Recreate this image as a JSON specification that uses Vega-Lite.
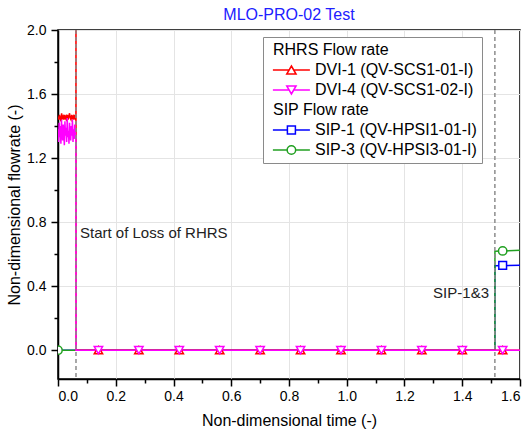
{
  "$schema": "https://vega.github.io/schema/vega-lite/v6.json",
  "width": 462,
  "height": 349,
  "autosize": {"type": "none"},
  "padding": {"left": 58, "top": 30, "right": 12, "bottom": 53},
  "title": {"text": "MLO-PRO-02 Test", "color": "#2020ff", "fontSize": 16, "fontWeight": "normal", "font": "Liberation Sans", "offset": 0},
  "config": {
    "font": "Liberation Sans",
    "view": {"stroke": "black", "strokeWidth": 1.5},
    "axis": {"labelFont": "Liberation Sans", "titleFont": "Liberation Sans", "labelColor": "black", "titleColor": "black", "domainColor": "black", "tickColor": "black", "domainWidth": 1.5, "tickWidth": 1.5, "labelFontSize": 14, "titleFontSize": 16, "titleFontWeight": "normal", "gridColor": "#e4e4e4", "gridWidth": 1}
  },
  "datasets": {
    "sip_lines": [
      {"s": "SIP-1 (QV-HPSI1-01-I)", "t": 0, "v": 0},
      {"s": "SIP-1 (QV-HPSI1-01-I)", "t": 1.513, "v": 0},
      {"s": "SIP-1 (QV-HPSI1-01-I)", "t": 1.5132, "v": 0.528},
      {"s": "SIP-1 (QV-HPSI1-01-I)", "t": 1.6, "v": 0.53},
      {"s": "SIP-3 (QV-HPSI3-01-I)", "t": 0, "v": 0},
      {"s": "SIP-3 (QV-HPSI3-01-I)", "t": 1.513, "v": 0},
      {"s": "SIP-3 (QV-HPSI3-01-I)", "t": 1.5132, "v": 0.618},
      {"s": "SIP-3 (QV-HPSI3-01-I)", "t": 1.6, "v": 0.624}
    ],
    "rhrs_lines": [
      {"s": "DVI-1 (QV-SCS1-01-I)", "t": 0, "v": 1.46},
      {"s": "DVI-1 (QV-SCS1-01-I)", "t": 0.0025, "v": 1.44},
      {"s": "DVI-1 (QV-SCS1-01-I)", "t": 0.005, "v": 1.47},
      {"s": "DVI-1 (QV-SCS1-01-I)", "t": 0.0075, "v": 1.45},
      {"s": "DVI-1 (QV-SCS1-01-I)", "t": 0.01, "v": 1.43},
      {"s": "DVI-1 (QV-SCS1-01-I)", "t": 0.0125, "v": 1.48},
      {"s": "DVI-1 (QV-SCS1-01-I)", "t": 0.015, "v": 1.45},
      {"s": "DVI-1 (QV-SCS1-01-I)", "t": 0.0175, "v": 1.46},
      {"s": "DVI-1 (QV-SCS1-01-I)", "t": 0.02, "v": 1.44},
      {"s": "DVI-1 (QV-SCS1-01-I)", "t": 0.0225, "v": 1.47},
      {"s": "DVI-1 (QV-SCS1-01-I)", "t": 0.025, "v": 1.45},
      {"s": "DVI-1 (QV-SCS1-01-I)", "t": 0.0275, "v": 1.46},
      {"s": "DVI-1 (QV-SCS1-01-I)", "t": 0.03, "v": 1.43},
      {"s": "DVI-1 (QV-SCS1-01-I)", "t": 0.0325, "v": 1.47},
      {"s": "DVI-1 (QV-SCS1-01-I)", "t": 0.035, "v": 1.44},
      {"s": "DVI-1 (QV-SCS1-01-I)", "t": 0.0375, "v": 1.46},
      {"s": "DVI-1 (QV-SCS1-01-I)", "t": 0.04, "v": 1.48},
      {"s": "DVI-1 (QV-SCS1-01-I)", "t": 0.0425, "v": 1.45},
      {"s": "DVI-1 (QV-SCS1-01-I)", "t": 0.045, "v": 1.44},
      {"s": "DVI-1 (QV-SCS1-01-I)", "t": 0.0475, "v": 1.47},
      {"s": "DVI-1 (QV-SCS1-01-I)", "t": 0.05, "v": 1.45},
      {"s": "DVI-1 (QV-SCS1-01-I)", "t": 0.0525, "v": 1.46},
      {"s": "DVI-1 (QV-SCS1-01-I)", "t": 0.055, "v": 1.44},
      {"s": "DVI-1 (QV-SCS1-01-I)", "t": 0.0575, "v": 1.47},
      {"s": "DVI-1 (QV-SCS1-01-I)", "t": 0.06, "v": 1.45},
      {"s": "DVI-1 (QV-SCS1-01-I)", "t": 0.062, "v": 1.46},
      {"s": "DVI-1 (QV-SCS1-01-I)", "t": 0.0623, "v": 2.6},
      {"s": "DVI-1 (QV-SCS1-01-I)", "t": 0.0626, "v": 0},
      {"s": "DVI-1 (QV-SCS1-01-I)", "t": 1.6, "v": 0},
      {"s": "DVI-4 (QV-SCS1-02-I)", "t": 0, "v": 1.38},
      {"s": "DVI-4 (QV-SCS1-02-I)", "t": 0.002, "v": 1.30},
      {"s": "DVI-4 (QV-SCS1-02-I)", "t": 0.004, "v": 1.42},
      {"s": "DVI-4 (QV-SCS1-02-I)", "t": 0.006, "v": 1.33},
      {"s": "DVI-4 (QV-SCS1-02-I)", "t": 0.008, "v": 1.40},
      {"s": "DVI-4 (QV-SCS1-02-I)", "t": 0.010, "v": 1.29},
      {"s": "DVI-4 (QV-SCS1-02-I)", "t": 0.012, "v": 1.44},
      {"s": "DVI-4 (QV-SCS1-02-I)", "t": 0.014, "v": 1.35},
      {"s": "DVI-4 (QV-SCS1-02-I)", "t": 0.016, "v": 1.31},
      {"s": "DVI-4 (QV-SCS1-02-I)", "t": 0.018, "v": 1.41},
      {"s": "DVI-4 (QV-SCS1-02-I)", "t": 0.020, "v": 1.36},
      {"s": "DVI-4 (QV-SCS1-02-I)", "t": 0.022, "v": 1.28},
      {"s": "DVI-4 (QV-SCS1-02-I)", "t": 0.024, "v": 1.43},
      {"s": "DVI-4 (QV-SCS1-02-I)", "t": 0.026, "v": 1.34},
      {"s": "DVI-4 (QV-SCS1-02-I)", "t": 0.028, "v": 1.39},
      {"s": "DVI-4 (QV-SCS1-02-I)", "t": 0.030, "v": 1.30},
      {"s": "DVI-4 (QV-SCS1-02-I)", "t": 0.032, "v": 1.45},
      {"s": "DVI-4 (QV-SCS1-02-I)", "t": 0.034, "v": 1.33},
      {"s": "DVI-4 (QV-SCS1-02-I)", "t": 0.036, "v": 1.37},
      {"s": "DVI-4 (QV-SCS1-02-I)", "t": 0.038, "v": 1.29},
      {"s": "DVI-4 (QV-SCS1-02-I)", "t": 0.040, "v": 1.42},
      {"s": "DVI-4 (QV-SCS1-02-I)", "t": 0.042, "v": 1.35},
      {"s": "DVI-4 (QV-SCS1-02-I)", "t": 0.044, "v": 1.31},
      {"s": "DVI-4 (QV-SCS1-02-I)", "t": 0.046, "v": 1.40},
      {"s": "DVI-4 (QV-SCS1-02-I)", "t": 0.048, "v": 1.34},
      {"s": "DVI-4 (QV-SCS1-02-I)", "t": 0.050, "v": 1.44},
      {"s": "DVI-4 (QV-SCS1-02-I)", "t": 0.052, "v": 1.30},
      {"s": "DVI-4 (QV-SCS1-02-I)", "t": 0.054, "v": 1.38},
      {"s": "DVI-4 (QV-SCS1-02-I)", "t": 0.056, "v": 1.32},
      {"s": "DVI-4 (QV-SCS1-02-I)", "t": 0.058, "v": 1.41},
      {"s": "DVI-4 (QV-SCS1-02-I)", "t": 0.060, "v": 1.36},
      {"s": "DVI-4 (QV-SCS1-02-I)", "t": 0.062, "v": 1.33},
      {"s": "DVI-4 (QV-SCS1-02-I)", "t": 0.0625, "v": 0},
      {"s": "DVI-4 (QV-SCS1-02-I)", "t": 1.6, "v": 0}
    ],
    "markers": [
      {"s": "SIP-1 (QV-HPSI1-01-I)", "t": 1.54, "v": 0.529},
      {"s": "SIP-3 (QV-HPSI3-01-I)", "t": 0, "v": 0},
      {"s": "SIP-3 (QV-HPSI3-01-I)", "t": 1.54, "v": 0.62},
      {"s": "DVI-1 (QV-SCS1-01-I)", "t": 0.14, "v": 0},
      {"s": "DVI-1 (QV-SCS1-01-I)", "t": 0.28, "v": 0},
      {"s": "DVI-1 (QV-SCS1-01-I)", "t": 0.42, "v": 0},
      {"s": "DVI-1 (QV-SCS1-01-I)", "t": 0.56, "v": 0},
      {"s": "DVI-1 (QV-SCS1-01-I)", "t": 0.70, "v": 0},
      {"s": "DVI-1 (QV-SCS1-01-I)", "t": 0.84, "v": 0},
      {"s": "DVI-1 (QV-SCS1-01-I)", "t": 0.98, "v": 0},
      {"s": "DVI-1 (QV-SCS1-01-I)", "t": 1.12, "v": 0},
      {"s": "DVI-1 (QV-SCS1-01-I)", "t": 1.26, "v": 0},
      {"s": "DVI-1 (QV-SCS1-01-I)", "t": 1.40, "v": 0},
      {"s": "DVI-1 (QV-SCS1-01-I)", "t": 1.54, "v": 0},
      {"s": "DVI-4 (QV-SCS1-02-I)", "t": 0.14, "v": 0},
      {"s": "DVI-4 (QV-SCS1-02-I)", "t": 0.28, "v": 0},
      {"s": "DVI-4 (QV-SCS1-02-I)", "t": 0.42, "v": 0},
      {"s": "DVI-4 (QV-SCS1-02-I)", "t": 0.56, "v": 0},
      {"s": "DVI-4 (QV-SCS1-02-I)", "t": 0.70, "v": 0},
      {"s": "DVI-4 (QV-SCS1-02-I)", "t": 0.84, "v": 0},
      {"s": "DVI-4 (QV-SCS1-02-I)", "t": 0.98, "v": 0},
      {"s": "DVI-4 (QV-SCS1-02-I)", "t": 1.12, "v": 0},
      {"s": "DVI-4 (QV-SCS1-02-I)", "t": 1.26, "v": 0},
      {"s": "DVI-4 (QV-SCS1-02-I)", "t": 1.40, "v": 0},
      {"s": "DVI-4 (QV-SCS1-02-I)", "t": 1.54, "v": 0}
    ],
    "events": [{"t": 0.0623}, {"t": 1.513}]
  },
  "layer": [
    {
      "data": {"name": "sip_lines"},
      "mark": {"type": "line", "strokeWidth": 1.5, "clip": true},
      "encoding": {
        "x": {"field": "t", "type": "quantitative", "scale": {"domain": [0, 1.6], "nice": false, "zero": false},
          "axis": {"orient": "bottom", "values": [0, 0.2, 0.4, 0.6, 0.8, 1.0, 1.2, 1.4, 1.6], "format": ".1f", "title": "Non-dimensional time (-)", "grid": true, "tickSize": 7, "labelPadding": 3, "titlePadding": 9}},
        "y": {"field": "v", "type": "quantitative", "scale": {"domain": [-0.18, 2.0], "nice": false, "zero": false},
          "axis": {"orient": "left", "values": [0, 0.4, 0.8, 1.2, 1.6, 2.0], "format": ".1f", "title": "Non-dimensional flowrate (-)", "grid": true, "tickSize": 7, "labelPadding": 5, "titlePadding": 4}},
        "stroke": {"field": "s", "type": "nominal",
          "scale": {"domain": ["RHRS Flow rate", "DVI-1 (QV-SCS1-01-I)", "DVI-4 (QV-SCS1-02-I)", "SIP Flow rate", "SIP-1 (QV-HPSI1-01-I)", "SIP-3 (QV-HPSI3-01-I)"],
                    "range": ["transparent", "#ff0000", "#ff00ff", "transparent", "#0000ff", "#22a022"]},
          "legend": {
            "orient": "none", "legendX": 205, "legendY": 7, "title": null,
            "labelFont": "Liberation Sans", "labelFontSize": 16, "labelColor": "black", "labelLimit": 0,
            "strokeColor": "#8a8a8a", "fillColor": "white", "padding": 5, "rowPadding": 4,
            "symbolSize": 100, "symbolStrokeWidth": 1.5,
            "encode": {
              "symbols": {
                "enter": {
                  "shape": {"signal": "datum.value === 'DVI-1 (QV-SCS1-01-I)' ? 'M-3.7,0H-0.47M0.47,0H3.7M0,-0.8L0.93,0.8L-0.93,0.8Z' : datum.value === 'DVI-4 (QV-SCS1-02-I)' ? 'M-3.7,0H-0.47M0.47,0H3.7M0,0.8L0.93,-0.8L-0.93,-0.8Z' : datum.value === 'SIP-1 (QV-HPSI1-01-I)' ? 'M-3.7,0H-0.8M0.8,0H3.7M-0.8,-0.8H0.8V0.8H-0.8Z' : 'M-3.7,0H-0.85M0.85,0H3.7M-0.85,0A0.85,0.85,0,1,0,0.85,0A0.85,0.85,0,1,0,-0.85,0Z'"}
                },
                "update": {
                  "x": {"value": 23.4},
                  "fill": {"value": "white"},
                  "shape": {"signal": "datum.value === 'DVI-1 (QV-SCS1-01-I)' ? 'M-3.7,0H-0.47M0.47,0H3.7M0,-0.8L0.93,0.8L-0.93,0.8Z' : datum.value === 'DVI-4 (QV-SCS1-02-I)' ? 'M-3.7,0H-0.47M0.47,0H3.7M0,0.8L0.93,-0.8L-0.93,-0.8Z' : datum.value === 'SIP-1 (QV-HPSI1-01-I)' ? 'M-3.7,0H-0.8M0.8,0H3.7M-0.8,-0.8H0.8V0.8H-0.8Z' : 'M-3.7,0H-0.85M0.85,0H3.7M-0.85,0A0.85,0.85,0,1,0,0.85,0A0.85,0.85,0,1,0,-0.85,0Z'"}
                }
              },
              "labels": {"update": {
                "x": [
                  {"test": "datum.value === 'RHRS Flow rate' || datum.value === 'SIP Flow rate'", "value": 5},
                  {"value": 47}
                ]
              }}
            }
          }
        }
      }
    },
    {
      "data": {"name": "rhrs_lines"},
      "mark": {"type": "line", "strokeWidth": 1.5, "clip": true},
      "encoding": {
        "x": {"field": "t", "type": "quantitative", "axis": null},
        "y": {"field": "v", "type": "quantitative", "axis": null},
        "stroke": {"field": "s", "type": "nominal"}
      }
    },
    {
      "data": {"name": "events"},
      "mark": {"type": "rule", "stroke": "#8c8c8c", "strokeWidth": 1.5, "strokeDash": [4, 3]},
      "encoding": {
        "x": {"field": "t", "type": "quantitative", "axis": null}
      }
    },
    {
      "data": {"name": "markers"},
      "transform": [{"filter": "datum.s === 'SIP-1 (QV-HPSI1-01-I)'"}],
      "mark": {"type": "point", "shape": "square", "filled": true, "fill": "white", "strokeWidth": 1.5, "size": 60, "clip": true, "opacity": 1},
      "encoding": {
        "x": {"field": "t", "type": "quantitative", "axis": null},
        "y": {"field": "v", "type": "quantitative", "axis": null},
        "stroke": {"field": "s", "type": "nominal"}
      }
    },
    {
      "data": {"name": "markers"},
      "transform": [{"filter": "datum.s === 'SIP-3 (QV-HPSI3-01-I)'"}],
      "mark": {"type": "point", "shape": "circle", "filled": true, "fill": "white", "strokeWidth": 1.5, "size": 70, "clip": true, "opacity": 1},
      "encoding": {
        "x": {"field": "t", "type": "quantitative", "axis": null},
        "y": {"field": "v", "type": "quantitative", "axis": null},
        "stroke": {"field": "s", "type": "nominal"}
      }
    },
    {
      "data": {"name": "markers"},
      "transform": [{"filter": "datum.s === 'DVI-1 (QV-SCS1-01-I)'"}],
      "mark": {"type": "point", "shape": "triangle-up", "filled": true, "fill": "white", "strokeWidth": 1.5, "size": 70, "clip": true, "opacity": 1},
      "encoding": {
        "x": {"field": "t", "type": "quantitative", "axis": null},
        "y": {"field": "v", "type": "quantitative", "axis": null},
        "stroke": {"field": "s", "type": "nominal"}
      }
    },
    {
      "data": {"name": "markers"},
      "transform": [{"filter": "datum.s === 'DVI-4 (QV-SCS1-02-I)'"}],
      "mark": {"type": "point", "shape": "triangle-down", "filled": true, "fill": "white", "strokeWidth": 1.5, "size": 70, "clip": true, "opacity": 1},
      "encoding": {
        "x": {"field": "t", "type": "quantitative", "axis": null},
        "y": {"field": "v", "type": "quantitative", "axis": null},
        "stroke": {"field": "s", "type": "nominal"}
      }
    },
    {
      "data": {"values": [{"t": 0.0762, "v": 0.734, "label": "Start of Loss of RHRS"}]},
      "mark": {"type": "text", "align": "left", "baseline": "middle", "fontSize": 15, "font": "Liberation Sans", "color": "#222222"},
      "encoding": {
        "x": {"field": "t", "type": "quantitative",
          "axis": {"orient": "bottom", "values": [0.1, 0.3, 0.5, 0.7, 0.9, 1.1, 1.3, 1.5], "labels": false, "grid": false, "domain": false, "tickSize": 4, "title": null}},
        "y": {"field": "v", "type": "quantitative",
          "axis": {"orient": "left", "values": [0.2, 0.6, 1.0, 1.4, 1.8], "labels": false, "grid": false, "domain": false, "tickSize": 4, "title": null}},
        "text": {"field": "label"}
      }
    },
    {
      "data": {"values": [{"t": 1.4926, "v": 0.355, "label": "SIP-1&3"}]},
      "mark": {"type": "text", "align": "right", "baseline": "middle", "fontSize": 15, "font": "Liberation Sans", "color": "#222222"},
      "encoding": {
        "x": {"field": "t", "type": "quantitative", "axis": null},
        "y": {"field": "v", "type": "quantitative", "axis": null},
        "text": {"field": "label"}
      }
    }
  ],
  "resolve": {"axis": {"x": "independent", "y": "independent"}}
}
